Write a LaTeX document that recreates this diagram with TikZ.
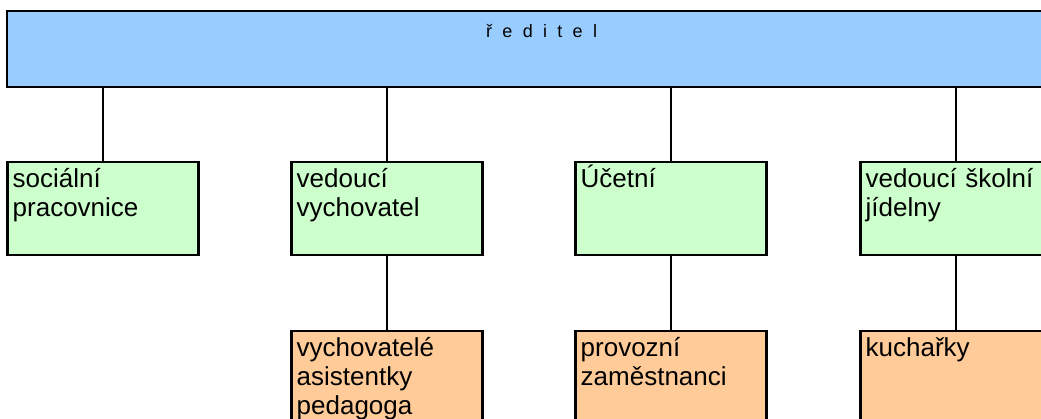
\documentclass[tikz,border=0pt]{standalone}
\usepackage{fontspec}
\setmainfont{Liberation Sans}
\usetikzlibrary{calc}
\definecolor{chiefblue}{HTML}{99CCFF}
\definecolor{staffgreen}{HTML}{CCFFCC}
\definecolor{teamorange}{HTML}{FFCC99}
\newcommand{\widespaces}{\spaceskip=10.3pt\relax}
\tikzset{
  boxframe/.style={draw=black, line width=2.5pt, rectangle, anchor=north west, inner sep=0pt, outer sep=0pt},
  chief/.style={boxframe, fill=chiefblue, minimum width=1072pt, minimum height=76pt},
  staffbox/.style={boxframe, fill=staffgreen, minimum width=191pt, minimum height=93pt},
  teambox/.style={boxframe, fill=teamorange, minimum width=191pt, minimum height=100pt},
  boxtext/.style={anchor=base west, inner sep=0pt, text width=185pt, align=left, font=\fontsize{26}{29}\selectfont},
  chieftext/.style={anchor=base west, inner sep=0pt, font=\fontsize{18}{21}\selectfont},
  link/.style={draw=black, line width=2pt}
}
\begin{document}
\begin{tikzpicture}[x=1pt,y=-1pt]
\useasboundingbox (0,0) rectangle (1041,418);
\clip (0,0) rectangle (1041,418);
% boxes
\node[chief] (chief) at (7,11) {};
\node[staffbox] (g1) at (7.5,162) {};
\node[staffbox] (g2) at (291.5,162) {};
\node[staffbox] (g3) at (575.5,162) {};
\node[staffbox] (g4) at (860.5,162) {};
\node[teambox] (o2) at (291.5,331) {};
\node[teambox] (o3) at (575.5,331) {};
\node[teambox] (o4) at (860.5,331) {};
% connectors
\draw[link] (chief.south -| g1.north) -- (g1.north);
\draw[link] (chief.south -| g2.north) -- (g2.north);
\draw[link] (chief.south -| g3.north) -- (g3.north);
\draw[link] (chief.south -| g4.north) -- (g4.north);
\draw[link] (g2.south) -- (o2.north);
\draw[link] (g3.south) -- (o3.north);
\draw[link] (g4.south) -- (o4.north);
% texts
\node[chieftext] (chieflabel) at ($(chief.north west)+(479,26)$) {\widespaces ř e d i t e l};
\node[boxtext] (g1t) at ($(g1.north west)+(5,25)$) {sociální\\pracovnice};
\node[boxtext] (g2t) at ($(g2.north west)+(5,25)$) {vedoucí\\vychovatel};
\node[boxtext] (g3t) at ($(g3.north west)+(5,25)$) {Účetní};
\node[boxtext] (g4t) at ($(g4.north west)+(5,25)$) {vedoucí školní\\jídelny};
\node[boxtext] (o2t) at ($(o2.north west)+(5,25)$) {vychovatelé\\asistentky\\pedagoga};
\node[boxtext] (o3t) at ($(o3.north west)+(5,25)$) {provozní\\zaměstnanci};
\node[boxtext] (o4t) at ($(o4.north west)+(5,25)$) {kuchařky};
\end{tikzpicture}
\end{document}
